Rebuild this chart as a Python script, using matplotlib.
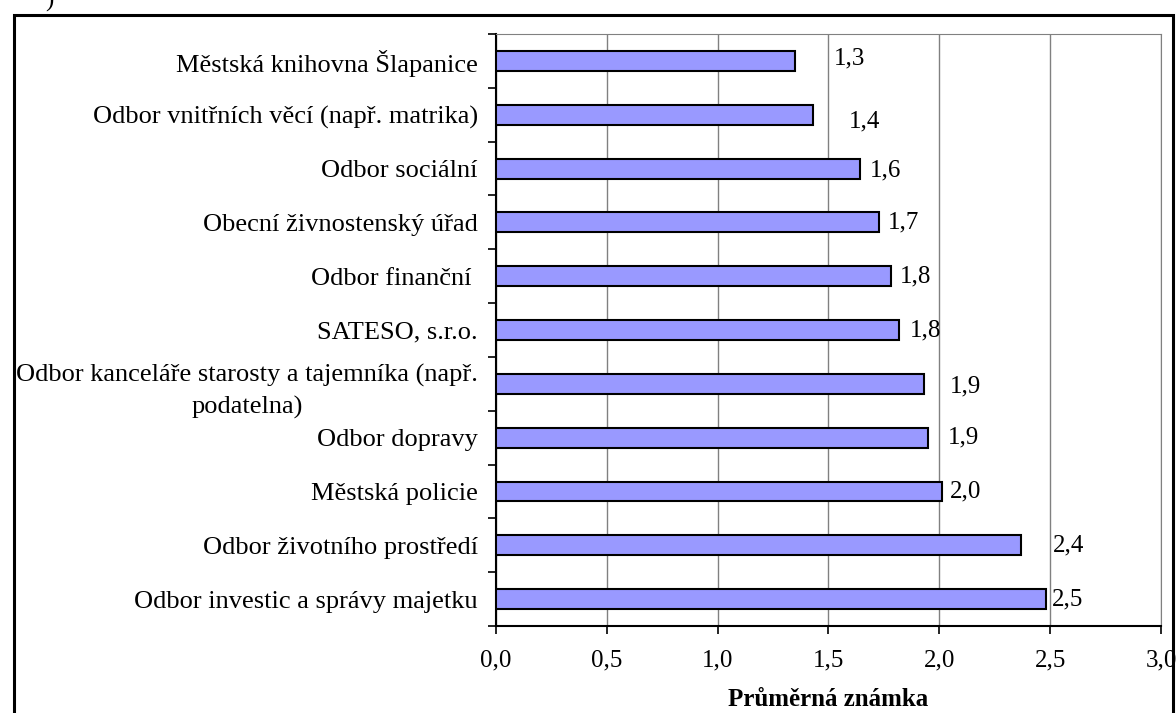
import matplotlib
matplotlib.use("Agg")
import matplotlib.pyplot as plt
from matplotlib.patches import Rectangle

# categories from top to bottom as in the chart
categories = [
    "Městská knihovna Šlapanice",
    "Odbor vnitřních věcí (např. matrika)",
    "Odbor sociální",
    "Obecní živnostenský úřad",
    "Odbor finanční ",
    "SATESO, s.r.o.",
    "Odbor kanceláře starosty a tajemníka (např.\npodatelna)",
    "Odbor dopravy",
    "Městská policie",
    "Odbor životního prostředí",
    "Odbor investic a správy majetku",
]
values = [1.35, 1.43, 1.64, 1.73, 1.78, 1.82, 1.93, 1.95, 2.01, 2.37, 2.48]
value_labels = ["1,3", "1,4", "1,6", "1,7", "1,8", "1,8", "1,9", "1,9", "2,0", "2,4", "2,5"]
# label offsets (pixels) from bar end, as placed in the original
label_dx = [39, 36, 10, 8, 9, 10, 26, 20, 8, 32, 6]
label_dy = [2, -7, -2, 0, 0, 0, -3, 0, 0, 0, 0]
xticks = [0.0, 0.5, 1.0, 1.5, 2.0, 2.5, 3.0]
xtick_labels = ["0,0", "0,5", "1,0", "1,5", "2,0", "2,5", "3,0"]

plt.rcParams['font.family'] = ['Liberation Serif', 'DejaVu Serif']

fig = plt.figure(figsize=(11.76, 7.13), dpi=100)
ax = fig.add_axes([0.4218, 0.122, 0.5654, 0.8303])

n = len(categories)
ypos = list(range(n))
ax.barh(ypos, values, height=0.37, color='#9999FF', edgecolor='black', linewidth=1.5, zorder=3)
ax.set_ylim(n - 0.5, -0.5)
ax.set_xlim(0, 3.0)

for y, v, lab, dx, dy in zip(ypos, values, value_labels, label_dx, label_dy):
    ax.annotate(lab, xy=(v, y), xytext=(dx, dy), textcoords='offset pixels',
                ha='left', va='center', fontsize=18, zorder=4)

ax.set_yticks(ypos)
ax.set_yticklabels(categories, fontsize=19, multialignment='center', linespacing=1.55)
ax.tick_params(axis='y', which='major', length=0, pad=13)
ax.set_yticks([i - 0.5 for i in range(n + 1)], minor=True)
ax.tick_params(axis='y', which='minor', length=6, width=1.2, direction='out')

ax.set_xticks(xticks)
ax.set_xticklabels(xtick_labels, fontsize=18)
ax.tick_params(axis='x', length=6, width=1.2, direction='out', pad=11)
ax.set_xlabel("Průměrná známka", fontsize=18, fontweight='bold', labelpad=12)

ax.grid(axis='x', color='#808080', linewidth=1.0, zorder=0)
ax.spines['left'].set_linewidth(1.5)
ax.spines['bottom'].set_linewidth(1.5)
ax.spines['top'].set_color('#808080')
ax.spines['right'].set_color('#808080')

# outer frame around the chart
fig.patches.append(Rectangle((13.5 / 1176, -0.05), (1173 - 13.5) / 1176, 1.05 - 14.5 / 713,
                             transform=fig.transFigure, fill=False, edgecolor='black',
                             linewidth=2.2, clip_on=False))
fig.text(45 / 1176, 1.0, ")", fontsize=18, ha='left', va='center')

fig.savefig("out.png", dpi=100)
